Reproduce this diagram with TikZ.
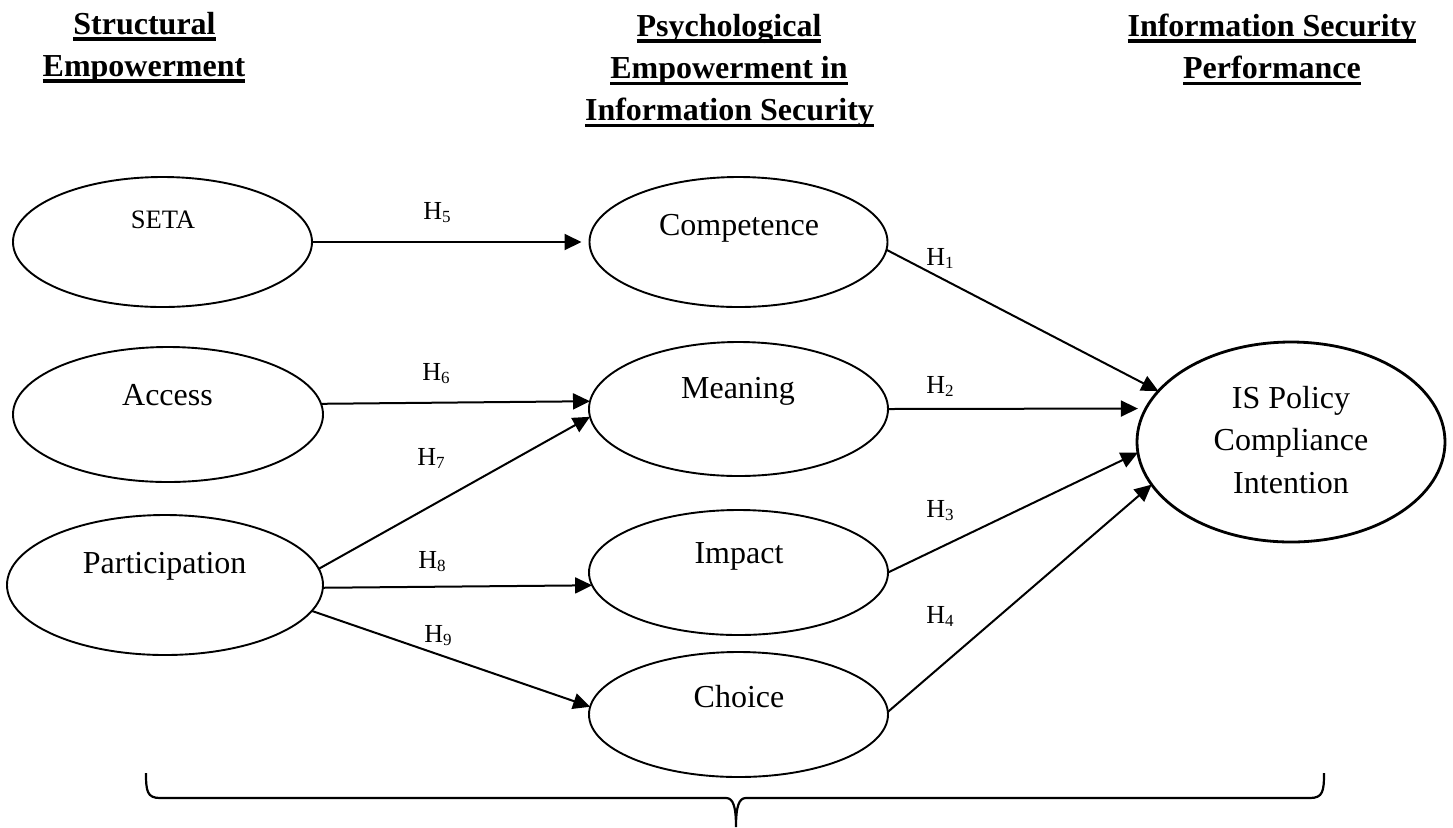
\documentclass[tikz,border=0pt]{standalone}
\usepackage{fontspec}
\setmainfont{Liberation Serif}
\usetikzlibrary{shapes.geometric,arrows.meta}
\newcommand\hdrul[1]{\setbox0\hbox{#1}\rlap{\rule[-3.3pt]{\wd0}{1.8pt}}\box0}
\newcommand\hyp[1]{H\raisebox{-1.5pt}{\fontsize{8.5}{10}\selectfont #1}}
\begin{document}
\begin{tikzpicture}[x=0.5pt,y=-0.5pt,
  lat/.style={draw, ellipse, line width=0.95pt, inner sep=0pt, outer sep=0pt},
  lbl/.style={anchor=base, inner sep=0pt, font=\fontsize{16}{19}\selectfont},
  hdr/.style={anchor=base, inner sep=0pt, font=\bfseries\fontsize{16}{19}\selectfont},
  hl/.style={anchor=base, inner sep=0pt, font=\fontsize{13}{15}\selectfont},
  arr/.style={-{Triangle[length=8.5pt,width=8pt]}, line width=1pt}]
\useasboundingbox (0,0) rectangle (1453,827);

% headers
\node[hdr] (h1a) at (144.5,34.3) {\hdrul{Structural}};
\node[hdr] (h1b) at (144,76) {\hdrul{Empowerment}};
\node[hdr] (h2a) at (729,36) {\hdrul{Psychological}};
\node[hdr] (h2b) at (729,78.5) {\hdrul{Empowerment in}};
\node[hdr] (h2c) at (729.5,120.5) {\hdrul{Information Security}};
\node[hdr] (h3a) at (1272,36) {\hdrul{Information Security}};
\node[hdr] (h3b) at (1272,78.5) {\hdrul{Performance}};

% ellipses
\node[lat, minimum width=149.5pt, minimum height=65pt] (seta) at (162.5,242) {};
\node[lat, minimum width=155pt, minimum height=67.5pt] (access) at (168,414.5) {};
\node[lat, minimum width=158pt, minimum height=70pt] (part) at (165,585) {};
\node[lat, minimum width=149pt, minimum height=65pt] (comp) at (738.5,242) {};
\node[lat, minimum width=149.5pt, minimum height=67pt] (mean) at (738.5,409) {};
\node[lat, minimum width=149.5pt, minimum height=62.5pt] (imp) at (738.5,572.5) {};
\node[lat, minimum width=149.5pt, minimum height=62.5pt] (choice) at (738.5,714.5) {};
\node[lat, line width=1.4pt, minimum width=154pt, minimum height=100pt] (isp) at (1291,442) {};

% ellipse texts
\node[lbl, font=\fontsize{13.3}{16}\selectfont] (tseta) at (163,228) {SETA};
\node[lbl] (taccess) at (167.5,405) {Access};
\node[lbl] (tpart) at (164.7,573) {Participation};
\node[lbl] (tcomp) at (739,235) {Competence};
\node[lbl] (tmean) at (738,398) {Meaning};
\node[lbl] (timp) at (739,563) {Impact};
\node[lbl] (tchoice) at (739,707) {Choice};
\node[lbl] (tisa) at (1291,408) {IS Policy};
\node[lbl] (tisb) at (1291,450) {Compliance};
\node[lbl] (tisc) at (1291,493) {Intention};

% connectors
\draw[arr, shorten >=4pt] (seta.east) -- (comp.west);
\draw[arr] (access.4.33) -- (mean.177.7);
\draw[arr] (part.6.7) -- (mean.183);
\draw[arr] (part.-1.1) -- (imp.185.9);
\draw[arr] (part.-10.8) -- (choice.177.5);
\draw[arr] (comp.-3.1) -- (isp.159.9);
\draw[arr, shorten >=4pt] (mean.east) -- (isp.167.2);
\draw[arr] (imp.0.6) -- (isp.184.1);
\draw[arr] (choice.1) -- (isp.197.9);

% hypothesis labels
\node[hl] (l5) at (437,219) {\hyp{5}};
\node[hl] (l6) at (436,380) {\hyp{6}};
\node[hl] (l7) at (431,465) {\hyp{7}};
\node[hl] (l8) at (432,568) {\hyp{8}};
\node[hl] (l9) at (438,642) {\hyp{9}};
\node[hl] (l1) at (940,265) {\hyp{1}};
\node[hl] (l2) at (940,393) {\hyp{2}};
\node[hl] (l3) at (940,517) {\hyp{3}};
\node[hl] (l4) at (940,623) {\hyp{4}};

% bottom brace
\draw[line width=1.1pt] (146,773) .. controls (146,791) and (147,798) .. (160,798)
  -- (726,798) .. controls (733,798) and (736,806) .. (736,827)
  .. controls (736,806) and (739,798) .. (746,798)
  -- (1310,798) .. controls (1323,798) and (1324,791) .. (1324,773);
\end{tikzpicture}
\end{document}
